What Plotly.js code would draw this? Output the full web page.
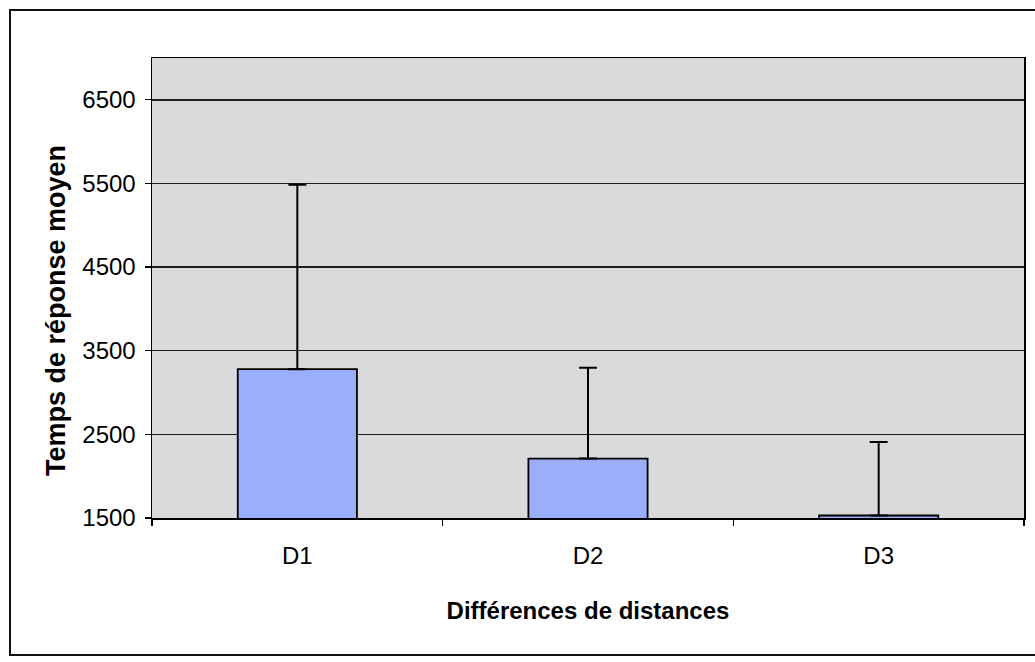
<!DOCTYPE html>
<html>
<head>
<meta charset="utf-8">
<script src="https://cdn.plot.ly/plotly-3.0.1.min.js"></script>
<style>
html,body{margin:0;padding:0;background:#fff;}
#chart{width:1035px;height:662px;}
</style>
</head>
<body>
<div id="chart"></div>
<script>
// Data
const categories = ["D1", "D2", "D3"];
const meanRT = [3280, 2210, 1530];
const errUp = [2205, 1085, 880];
const yTickVals = [1500, 2500, 3500, 4500, 5500, 6500];
const xTitle = "Différences de distances";
const yTitle = "Temps de réponse moyen";

const W = 1035, H = 662;
const M = {l: 152, r: 11, t: 58, b: 144};
const pw = W - M.l - M.r, ph = H - M.t - M.b;
const px = v => (v - M.l) / pw;
const py = v => (H - M.b - v) / ph;

const font = "Arial, 'Liberation Sans', sans-serif";

const trace = {
  type: "bar",
  x: categories,
  y: meanRT,
  base: 0,
  marker: {color: "#9aaefa", line: {color: "#000", width: 1.8}},
  error_y: {type: "data", symmetric: false, array: errUp, arrayminus: [0,0,0],
            color: "#000", thickness: 2, width: 9},
  hoverinfo: "none"
};

const layout = {
  width: W, height: H,
  margin: M,
  paper_bgcolor: "#ffffff",
  plot_bgcolor: "#dadadd",
  showlegend: false,
  bargap: 0.59,
  font: {family: font, color: "#000"},
  xaxis: {
    type: "category",
    tickson: "boundaries",
    ticks: "outside", ticklen: 6, tickcolor: "#000", tickwidth: 1.2,
    showline: true, linecolor: "#000", linewidth: 1.5, mirror: true,
    showgrid: false,
    tickfont: {family: font, size: 24, color: "#000"},
    ticklabelstandoff: 16,
    title: {text: xTitle, font: {family: font, size: 24, color: "#000", weight: "bold"}, standoff: 34}
  },
  yaxis: {
    range: [1500, 7000],
    tickvals: yTickVals,
    ticktext: yTickVals.map(String),
    ticks: "outside", ticklen: 6, tickcolor: "#000", tickwidth: 1.2,
    showline: true, linecolor: "#000", linewidth: 1.5, mirror: true,
    showgrid: true, gridcolor: "#1e1e1e", gridwidth: 1.5,
    zeroline: false,
    tickfont: {family: font, size: 24, color: "#000"},
    ticklabelstandoff: 4
  },
  annotations: [{
    text: "<b>" + yTitle + "</b>",
    xref: "paper", yref: "paper",
    x: px(56), y: py(311),
    xanchor: "center", yanchor: "middle",
    textangle: -90, showarrow: false,
    font: {family: font, size: 27, color: "#000"}
  }],
  shapes: [{
    type: "rect", xref: "paper", yref: "paper",
    x0: px(10), x1: px(1045), y0: py(655), y1: py(10),
    line: {color: "#111", width: 2}, fillcolor: "rgba(0,0,0,0)", layer: "below"
  }]
};

Plotly.newPlot("chart", [trace], layout, {staticPlot: true, displayModeBar: false});
</script>
</body>
</html>
